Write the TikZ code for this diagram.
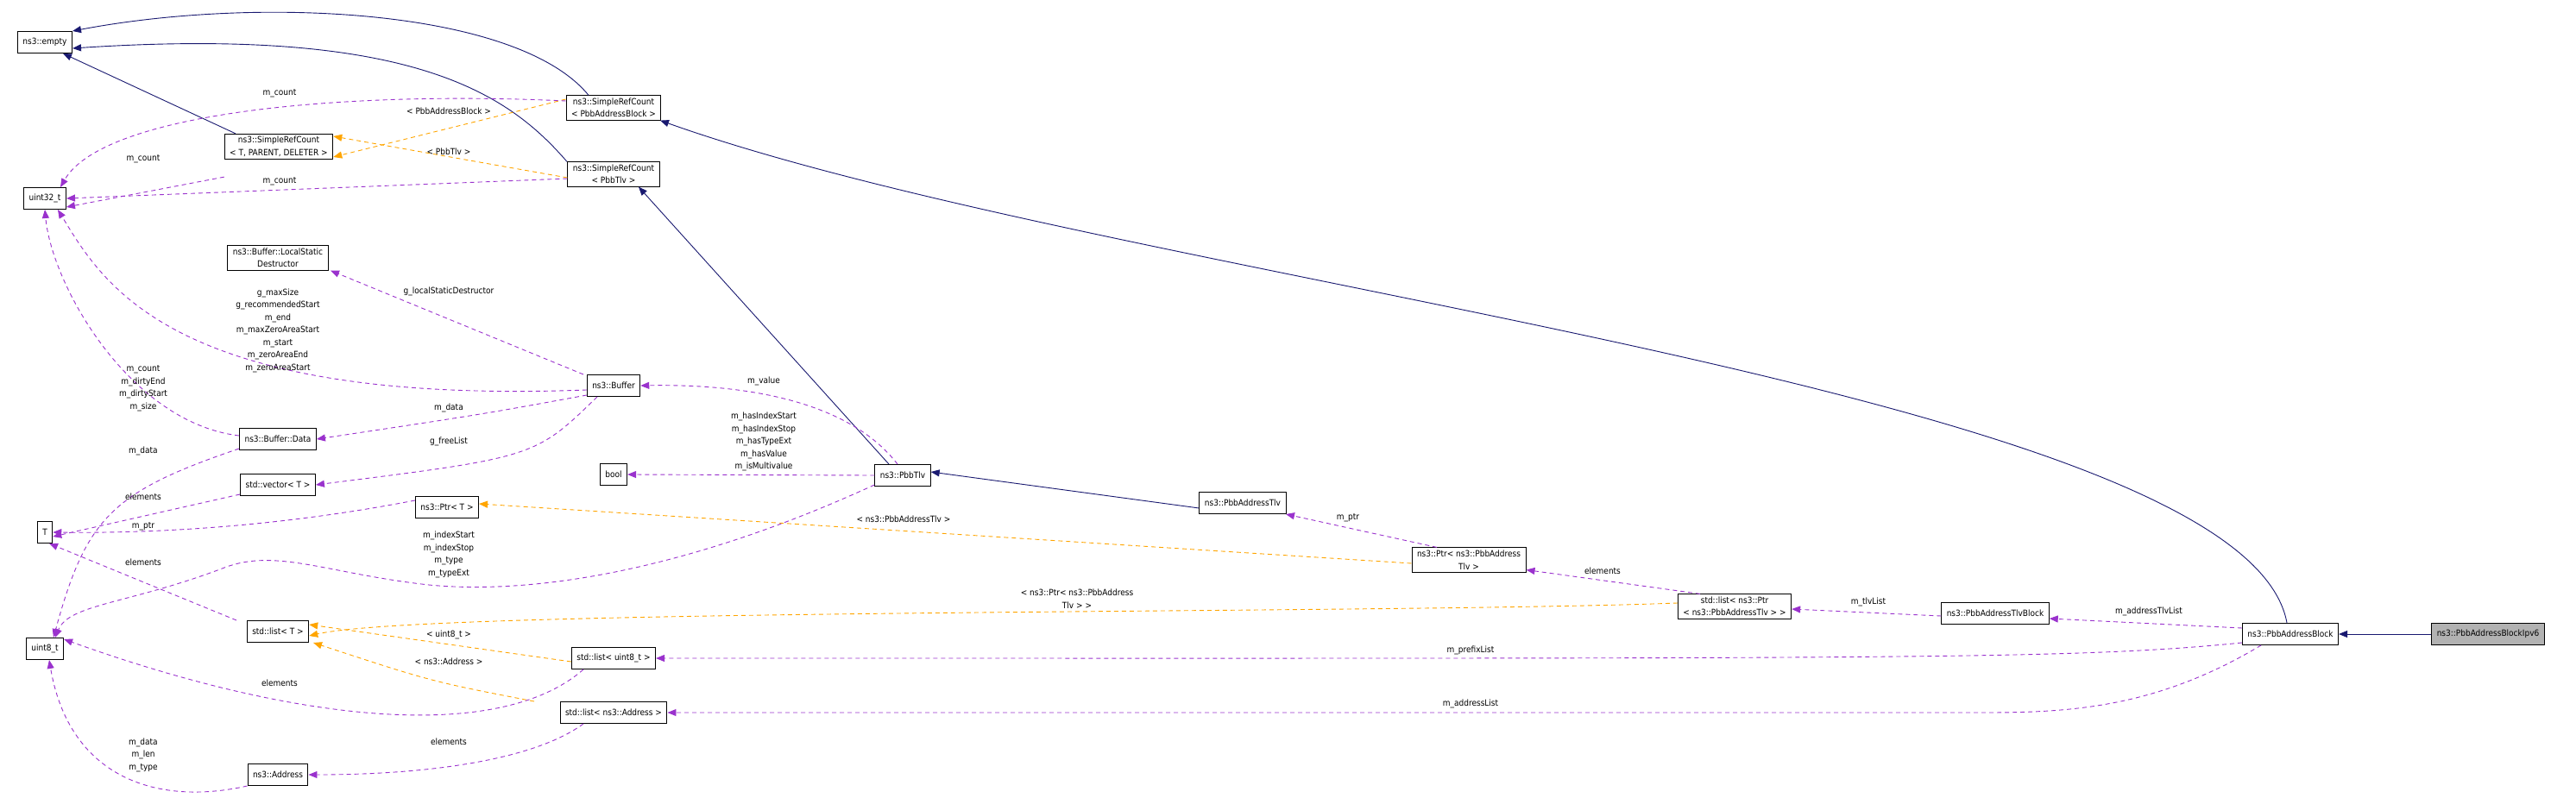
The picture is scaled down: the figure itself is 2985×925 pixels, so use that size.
\documentclass[tikz,border=0pt]{standalone}
\usepackage{fontspec}
\setmainfont{DejaVu Sans Condensed}
\usetikzlibrary{arrows.meta}
\definecolor{inh}{HTML}{191970}
\definecolor{mem}{HTML}{9A32CD}
\definecolor{tpl}{HTML}{FFA500}

\begin{document}
\begin{tikzpicture}[x=1pt,y=-1pt,font=\fontsize{10}{14.5}\selectfont,
  class node/.style={draw,line width=1pt,fill=white,align=center,inner xsep=6pt,inner ysep=3pt,minimum height=25pt},
  inherit/.style={draw=inh,line width=0.9pt,-{Triangle[length=10pt,width=8pt]}},
  member/.style={draw=mem,line width=0.9pt,dash pattern=on 5pt off 4pt,-{Triangle[length=10pt,width=8pt,fill=mem]}},
  templ/.style={draw=tpl,line width=0.9pt,dash pattern=on 5pt off 4pt,-{Triangle[length=10pt,width=8pt,fill=tpl]}},
  lbl/.style={align=center,inner sep=0pt}]
  \useasboundingbox (0,0) rectangle (2985,925);
  \node[class node] (empty) at (52,49) {ns3::empty};
  \node[class node] (srcPab) at (711,125) {ns3::SimpleRefCount\\< PbbAddressBlock >};
  \node[class node] (srcT) at (323,170) {ns3::SimpleRefCount\\< T, PARENT, DELETER >};
  \node[class node] (srcTlv) at (711,202) {ns3::SimpleRefCount\\< PbbTlv >};
  \node[class node] (u32) at (52,230) {uint32\_t};
  \node[class node] (lsd) at (322,299) {ns3::Buffer::LocalStatic\\Destructor};
  \node[class node] (buffer) at (711,447) {ns3::Buffer};
  \node[class node] (data) at (322,509) {ns3::Buffer::Data};
  \node[class node] (vec) at (322,562) {std::vector< T >};
  \node[class node] (bool) at (711,550) {bool};
  \node[class node] (tlv) at (1046,551) {ns3::PbbTlv};
  \node[class node] (ptrT) at (518,588) {ns3::Ptr< T >};
  \node[class node] (T) at (52,617) {T};
  \node[class node] (addrTlv) at (1440,583) {ns3::PbbAddressTlv};
  \node[class node] (ptrTlv) at (1702,649) {ns3::Ptr< ns3::PbbAddress\\Tlv >};
  \node[class node] (listPtr) at (2010,703) {std::list< ns3::Ptr\\< ns3::PbbAddressTlv > >};
  \node[class node] (listT) at (322,732) {std::list< T >};
  \node[class node] (u8) at (52,752) {uint8\_t};
  \node[class node] (listU8) at (711,763) {std::list< uint8\_t >};
  \node[class node] (tlvBlock) at (2312,711) {ns3::PbbAddressTlvBlock};
  \node[class node] (block) at (2654,735) {ns3::PbbAddressBlock};
  \node[class node,fill=black!30] (ipv6) at (2883,735) {ns3::PbbAddressBlockIpv6};
  \node[class node] (listAddr) at (711,826) {std::list< ns3::Address >};
  \node[class node] (addr) at (322,898) {ns3::Address};

  % inheritance
  \draw[inherit] ([xshift=-29pt]srcPab.north) .. controls (600,10) and (300,-5) .. (empty.north east);
  \draw[inherit] ([xshift=-54pt]srcTlv.north) .. controls (590,110) and (480,30) .. ([yshift=-7pt]empty.east);
  \draw[inherit] ([xshift=-50pt]srcT.north) -- ([xshift=-11pt]empty.south east);
  \draw[inherit] ([xshift=-16pt]tlv.north) -- ([xshift=29pt]srcTlv.south);
  \draw[inherit] ([yshift=-6pt]addrTlv.west) -- ([yshift=4pt]tlv.east);
  \draw[inherit] ([xshift=-4pt]block.north) .. controls (2600,450) and (1300,330) .. ([xshift=54pt]srcPab.south);
  \draw[inherit] (ipv6) -- (block);

  % template instances
  \draw[templ] ([yshift=10pt]srcPab.west) -- ([yshift=-12pt]srcT.east);
  \draw[templ] ([yshift=-4pt]srcTlv.west) -- ([yshift=12pt]srcT.east);
  \draw[templ] ([yshift=-4pt]ptrTlv.west) -- ([yshift=4pt]ptrT.east);
  \draw[templ] ([yshift=-4pt]listU8.west) -- ([yshift=8pt]listT.east);
  \draw[templ] ([xshift=-92pt]listAddr.north) .. controls (500,790) .. ([xshift=41pt]listT.south);
  \draw[templ] ([yshift=4pt]listPtr.west) .. controls (1600,712) and (500,705) .. ([yshift=-5pt]listT.east);
  \node[lbl] (lPab) at (520,129) {< PbbAddressBlock >};
  \node[lbl] (lTlv) at (520,176) {< PbbTlv >};
  \node[lbl] (lPtr) at (1047,602) {< ns3::PbbAddressTlv >};
  \node[lbl] (lList) at (1248,694) {< ns3::Ptr< ns3::PbbAddress\\Tlv > >};
  \node[lbl] (lU8) at (520,736) {< uint8\_t >};
  \node[lbl] (lAddr) at (520,767) {< ns3::Address >};

  % members
  \draw[member] ([yshift=8pt]srcPab.west) .. controls (400,105) and (120,130) .. ([xshift=18pt]u32.north);
  \draw[member] ([yshift=-20pt]srcT.south west) -- ([yshift=-10pt]u32.east);
  \draw[member] ([yshift=-5pt]srcTlv.west) -- (u32.east);
  \draw[member] ([yshift=-5pt]buffer.west) .. controls (200,470) and (120,330) .. ([xshift=15pt]u32.south);
  \draw[member] ([yshift=4pt]data.west) .. controls (150,490) and (60,330) .. (u32.south);
  \draw[member] ([xshift=-35pt]buffer.north) -- ([xshift=61pt]lsd.south);
  \draw[member] ([yshift=-11pt]buffer.west) .. controls (560,480) .. (data.east);
  \draw[member] ([xshift=-19pt]buffer.south) .. controls (620,530) .. (vec.east);
  \draw[member] ([xshift=-6pt]tlv.north) .. controls (980,460) and (850,445) .. (buffer.east);
  \draw[member] (tlv.west) -- (bool.east);
  \draw[member] ([yshift=-11pt]tlv.west) .. controls (800,660) and (620,690) .. (497,678)
    .. controls (380,665) and (320,635) .. (260,658) .. controls (150,700) and (80,700) .. ([xshift=12pt]u8.north);
  \draw[member] ([yshift=-11pt]data.west) .. controls (130,570) and (100,600) .. ([xshift=10pt]u8.north);
  \draw[member] ([yshift=-11pt]vec.west) -- ([yshift=-5pt]T.east);
  \draw[member] ([yshift=8pt]ptrT.west) .. controls (300,615) and (150,618) .. (T.east);
  \draw[member] ([xshift=-48pt]listT.north) -- ([xshift=5pt]T.south);
  \draw[member] ([xshift=-35pt]listU8.south) .. controls (580,860) and (350,840) .. ([yshift=11pt]u8.east);
  \draw[member] (addr.south west) .. controls (180,935) and (80,900) .. ([xshift=5pt]u8.south);
  \draw[member] ([xshift=-35pt]listAddr.south) .. controls (620,880) and (500,898) .. (addr.east);
  \draw[member] ([yshift=-3pt]tlvBlock.west) -- ([yshift=-3pt]listPtr.east);
  \draw[member] ([xshift=-40pt]listPtr.north) -- ([yshift=3pt]ptrTlv.south east);
  \draw[member] ([xshift=-37pt]ptrTlv.north) -- ([xshift=50pt]addrTlv.south);
  \draw[member] ([yshift=7pt]block.west) -- ([yshift=-6pt]tlvBlock.east);
  \draw[member] ([yshift=-10pt]block.west) .. controls (2400,765) and (2200,763) .. (listU8.east);
  \draw[member] ([xshift=-34pt]block.south) .. controls (2500,820) and (2400,826) .. (2300,826) -- (listAddr.east);
  \node[lbl] (m1) at (324,108) {m\_count};
  \node[lbl] (m2) at (166,184) {m\_count};
  \node[lbl] (m3) at (324,210) {m\_count};
  \node[lbl] (m4) at (520,338) {g\_localStaticDestructor};
  \node[lbl] (m5) at (322,383) {g\_maxSize\\g\_recommendedStart\\m\_end\\m\_maxZeroAreaStart\\m\_start\\m\_zeroAreaEnd\\m\_zeroAreaStart};
  \node[lbl] (m6) at (166,450) {m\_count\\m\_dirtyEnd\\m\_dirtyStart\\m\_size};
  \node[lbl] (m7) at (885,442) {m\_value};
  \node[lbl] (m8) at (520,473) {m\_data};
  \node[lbl] (m9) at (885,512) {m\_hasIndexStart\\m\_hasIndexStop\\m\_hasTypeExt\\m\_hasValue\\m\_isMultivalue};
  \node[lbl] (m10) at (520,512) {g\_freeList};
  \node[lbl] (m11) at (166,523) {m\_data};
  \node[lbl] (m12) at (166,576) {elements};
  \node[lbl] (m13) at (166,610) {m\_ptr};
  \node[lbl] (m14) at (520,643) {m\_indexStart\\m\_indexStop\\m\_type\\m\_typeExt};
  \node[lbl] (m15) at (166,652) {elements};
  \node[lbl] (m16) at (324,792) {elements};
  \node[lbl] (m17) at (520,860) {elements};
  \node[lbl] (m18) at (166,875) {m\_data\\m\_len\\m\_type};
  \node[lbl] (m19) at (1562,600) {m\_ptr};
  \node[lbl] (m20) at (1857,662) {elements};
  \node[lbl] (m21) at (2165,698) {m\_tlvList};
  \node[lbl] (m22) at (2490,709) {m\_addressTlvList};
  \node[lbl] (m23) at (1704,754) {m\_prefixList};
  \node[lbl] (m24) at (1704,816) {m\_addressList};
\end{tikzpicture}
\end{document}
